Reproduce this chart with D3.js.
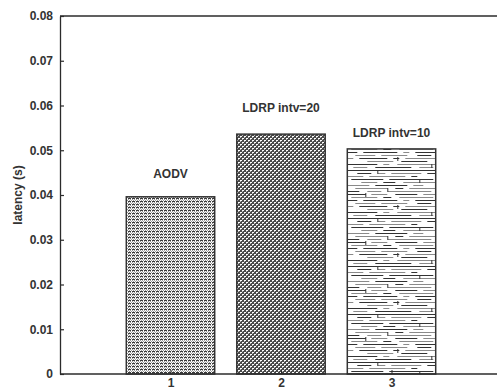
<!DOCTYPE html>
<html><head><meta charset="utf-8">
<script src="https://cdn.jsdelivr.net/npm/d3@7"></script>
<style>body{margin:0;background:#fff}svg{display:block}</style>
</head><body>
<script>
// ---- data ----
const categories = [1, 2, 3];
const latency = [0.0396, 0.0536, 0.0503];
const barLabels = ["AODV", "LDRP intv=20", "LDRP intv=10"];
const labelY = [0.0438, 0.0586, 0.0530];
const yTicks = [0, 0.01, 0.02, 0.03, 0.04, 0.05, 0.06, 0.07, 0.08];
const yTickLabels = ["0", "0.01", "0.02", "0.03", "0.04", "0.05", "0.06", "0.07", "0.08"];
const xTickLabels = ["1", "2", "3"];

const W = 497, H = 390;
const svg = d3.select("body").append("svg").attr("width", W).attr("height", H);
const x = d3.scaleLinear().domain([0, 4]).range([60, 502]);
const y = d3.scaleLinear().domain([0, 0.08]).range([374, 16]);
const bw = 0.8;
const font = "'Liberation Sans', Arial, Helvetica, sans-serif";
const txt = "#333";

const defs = svg.append("defs");
// pattern 1: dashed rows over fine checker
const p1 = defs.append("pattern").attr("id", "p1").attr("patternUnits", "userSpaceOnUse")
  .attr("width", 4).attr("height", 3);
p1.append("rect").attr("width", 4).attr("height", 3).attr("fill", "#fff");
p1.append("rect").attr("x", 0).attr("y", 0).attr("width", 3).attr("height", 1).attr("fill", "#3a3a3a");
p1.append("rect").attr("x", 0).attr("y", 1).attr("width", 1).attr("height", 1).attr("fill", "#9a9a9a");
p1.append("rect").attr("x", 2).attr("y", 1).attr("width", 1).attr("height", 1).attr("fill", "#9a9a9a");
p1.append("rect").attr("x", 1).attr("y", 2).attr("width", 1).attr("height", 1).attr("fill", "#9a9a9a");
p1.append("rect").attr("x", 3).attr("y", 2).attr("width", 1).attr("height", 1).attr("fill", "#9a9a9a");
// pattern 2: dark with diamond lattice of white dots
const p2 = defs.append("pattern").attr("id", "p2").attr("patternUnits", "userSpaceOnUse")
  .attr("width", 4).attr("height", 4);
p2.append("rect").attr("width", 4).attr("height", 4).attr("fill", "#4a4a4a");
p2.append("rect").attr("x", 0).attr("y", 0).attr("width", 2).attr("height", 1).attr("fill", "#fff");
p2.append("rect").attr("x", 2).attr("y", 2).attr("width", 2).attr("height", 1).attr("fill", "#fff");
p2.append("rect").attr("x", 0).attr("y", 1).attr("width", 1).attr("height", 1).attr("fill", "#bbb");
p2.append("rect").attr("x", 2).attr("y", 3).attr("width", 1).attr("height", 1).attr("fill", "#bbb");
// pattern 3: strata texture of horizontal segments
const p3 = defs.append("pattern").attr("id", "p3").attr("patternUnits", "userSpaceOnUse")
  .attr("width", 90).attr("height", 48).attr("x", x(3 - bw / 2)).attr("y", 0);
p3.append("rect").attr("width", 90).attr("height", 48).attr("fill", "#fff");
const strata = [
  [2, [[0,18,'d'],[24,40,'g'],[48,70,'d'],[76,88,'g']]],
  [5, [[4,30,'g'],[36,44,'d'],[52,86,'g']]],
  [8, [[0,10,'d'],[16,50,'d'],[56,62,'g'],[68,90,'d']]],
  [11, [[8,28,'g'],[34,60,'g'],[70,84,'d']]],
  [14, [[0,6,'g'],[12,40,'d'],[46,52,'d'],[58,88,'g']]],
  [17, [[20,46,'g'],[54,80,'d']]],
  [20, [[0,30,'d'],[36,42,'g'],[50,90,'g']]],
  [23, [[6,20,'g'],[28,64,'d'],[72,86,'g']]],
  [26, [[0,44,'d'],[44,90,'d']]],
  [29, [[10,24,'d'],[30,38,'g'],[44,74,'g'],[80,90,'d']]],
  [32, [[0,16,'g'],[22,58,'g'],[64,70,'d']]],
  [35, [[4,36,'d'],[42,86,'d']]],
  [38, [[14,30,'g'],[36,48,'d'],[56,88,'g']]],
  [41, [[0,22,'g'],[28,60,'d'],[66,76,'g']]],
  [44, [[8,40,'g'],[48,56,'d'],[62,90,'g']]],
  [47, [[0,12,'d'],[20,34,'g'],[40,84,'g']]]
];
strata.forEach(([yy, segs]) => segs.forEach(([a, b, c]) => {
  p3.append("rect").attr("x", a).attr("y", yy).attr("width", b - a).attr("height", 1)
    .attr("fill", c === 'd' ? "#333" : "#8a8a8a");
}));
[[18,1,5],[50,13,17],[30,26,30],[72,35,39],[40,44,48],[84,20,24]].forEach(([xx, a, b]) => {
  p3.append("rect").attr("x", xx).attr("y", a).attr("width", 1).attr("height", b - a).attr("fill", "#333");
});
const fills = ["url(#p1)", "url(#p2)", "url(#p3)"];

// bars
svg.selectAll("rect.bar").data(categories).join("rect").attr("class", "bar")
  .attr("x", (d) => x(d - bw / 2))
  .attr("y", (d, i) => y(latency[i]))
  .attr("width", (d) => x(d + bw / 2) - x(d - bw / 2))
  .attr("height", (d, i) => y(0) - y(latency[i]))
  .attr("fill", (d, i) => fills[i])
  .attr("stroke", "#333").attr("stroke-width", 1.5);

// axes frame
const axisColor = "#2b2b2b";
svg.append("line").attr("x1", x(0)).attr("x2", W).attr("y1", y(0.08)).attr("y2", y(0.08))
  .attr("stroke", axisColor).attr("stroke-width", 1.3);
svg.append("line").attr("x1", x(0)).attr("x2", W).attr("y1", y(0)).attr("y2", y(0))
  .attr("stroke", axisColor).attr("stroke-width", 1.3);

const yAxis = d3.axisLeft(y).tickValues(yTicks).tickFormat((d, i) => yTickLabels[i])
  .tickSizeInner(-4).tickSizeOuter(0).tickPadding(7);
const gy = svg.append("g").attr("transform", `translate(${x(0)},0)`).call(yAxis);
gy.select(".domain").attr("stroke", axisColor).attr("stroke-width", 1.3);
gy.selectAll(".tick line").attr("stroke", axisColor).attr("stroke-width", 1.2);
gy.selectAll(".tick text").attr("font-family", font).attr("font-weight", "bold")
  .attr("font-size", 12).attr("fill", txt);

const xAxis = d3.axisBottom(x).tickValues(categories).tickFormat((d, i) => xTickLabels[i])
  .tickSizeInner(-4).tickSizeOuter(0).tickPadding(4);
const gx = svg.append("g").attr("transform", `translate(0,${y(0)})`).call(xAxis);
gx.select(".domain").remove();
gx.selectAll(".tick line").attr("stroke", axisColor);
gx.selectAll(".tick text").attr("font-family", font).attr("font-weight", "bold")
  .attr("font-size", 12).attr("fill", txt);

// bar annotations
svg.selectAll("text.lab").data(categories).join("text").attr("class", "lab")
  .attr("x", (d) => x(d)).attr("y", (d, i) => y(labelY[i]))
  .attr("text-anchor", "middle").attr("font-family", font).attr("font-weight", "bold")
  .attr("font-size", 12).attr("fill", txt).text((d, i) => barLabels[i]);

// y label
svg.append("text").attr("transform", `translate(22,${(y(0) + y(0.08)) / 2}) rotate(-90)`)
  .attr("text-anchor", "middle").attr("font-family", font).attr("font-weight", "bold")
  .attr("font-size", 12).attr("fill", txt).text("latency (s)");
</script>
</body></html>
